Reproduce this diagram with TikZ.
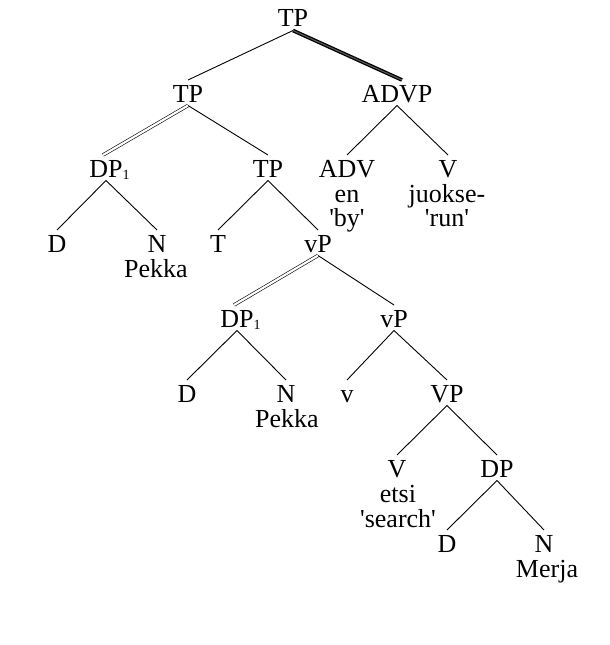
\documentclass[tikz,border=0pt]{standalone}
\usepackage{fontspec}
\setmainfont{Liberation Serif}
\begin{document}
\begin{tikzpicture}[x=1pt,y=-1pt,
  every node/.style={font=\fontsize{26}{25}\selectfont, inner sep=0pt},
  cat/.style={anchor=base, text height=18.5pt, text depth=0pt, outer xsep=0pt, outer ysep=3.5pt},
  word/.style={anchor=base},
  branch/.style={line width=0.9pt},
  dbranch/.style={line width=0.6pt, double, double distance=2.2pt},
  hbranch/.style={line width=1.3pt, double=black!65, double distance=1.1pt}]
\useasboundingbox (0,0) rectangle (610,645);
\newcommand{\idx}[1]{\rlap{\raisebox{-2pt}{\fontsize{14}{14}\selectfont #1}}}
\newcommand{\gl}[1]{\textquotesingle#1\textquotesingle}

% category labels
\node[cat] (tp0)  at (293,27)  {TP};
\node[cat] (tp1)  at (188,102) {TP};
\node[cat] (advp) at (397,102) {ADVP};
\node[cat] (dpa)  at (106,177) {DP\idx{1}};
\node[cat] (tp2)  at (268,177) {TP};
\node[cat] (adv)  at (347,177) {ADV};
\node[cat] (vadv) at (448,177) {V};
\node[cat] (da)   at (57,252)  {D};
\node[cat] (na)   at (157,252) {N};
\node[cat] (t)    at (218,252) {T};
\node[cat] (vpa)  at (318,252) {vP};
\node[cat] (dpb)  at (237,327) {DP\idx{1}};
\node[cat] (vpb)  at (394,327) {vP};
\node[cat] (db)   at (187,402) {D};
\node[cat] (nb)   at (286,402) {N};
\node[cat] (lv)   at (347,402) {v};
\node[cat] (bigvp) at (447,402) {VP};
\node[cat] (vb)   at (397,477) {V};
\node[cat] (dpc)  at (497,477) {DP};
\node[cat] (dc)   at (447,552) {D};
\node[cat] (nc)   at (544,552) {N};

% lexical material and glosses
\node[word] (en)     at (347,202) {en};
\node[word] (by)     at (347,226) {\gl{by}};
\node[word] (juokse) at (447,202) {juokse-};
\node[word] (run)    at (447,226) {\gl{run}};
\node[word] (pekkaa) at (156,277) {Pekka};
\node[word] (pekkab) at (287,427) {Pekka};
\node[word] (etsi)   at (398,502) {etsi};
\node[word] (search) at (398,527) {\gl{search}};
\node[word] (merja)  at (547,577) {Merja};

% branches
\draw[branch]  (tp0.south) -- (tp1.north);
\draw[hbranch] (tp0.south) -- ([xshift=5pt]advp.north);
\draw[dbranch] (tp1.south) -- ([xshift=-3pt]dpa.north);
\draw[branch]  (tp1.south) -- (tp2.north);
\draw[branch]  (advp.south) -- (adv.north);
\draw[branch]  (advp.south) -- (vadv.north);
\draw[branch]  (dpa.south) -- (da.north);
\draw[branch]  (dpa.south) -- (na.north);
\draw[branch]  (tp2.south) -- (t.north);
\draw[branch]  (tp2.south) -- (vpa.north);
\draw[dbranch] (vpa.south) -- ([xshift=-3pt]dpb.north);
\draw[branch]  (vpa.south) -- (vpb.north);
\draw[branch]  (dpb.south) -- (db.north);
\draw[branch]  (dpb.south) -- (nb.north);
\draw[branch]  (vpb.south) -- (lv.north);
\draw[branch]  (vpb.south) -- (bigvp.north);
\draw[branch]  (bigvp.south) -- (vb.north);
\draw[branch]  (bigvp.south) -- (dpc.north);
\draw[branch]  (dpc.south) -- (dc.north);
\draw[branch]  (dpc.south) -- (nc.north);
\end{tikzpicture}
\end{document}
